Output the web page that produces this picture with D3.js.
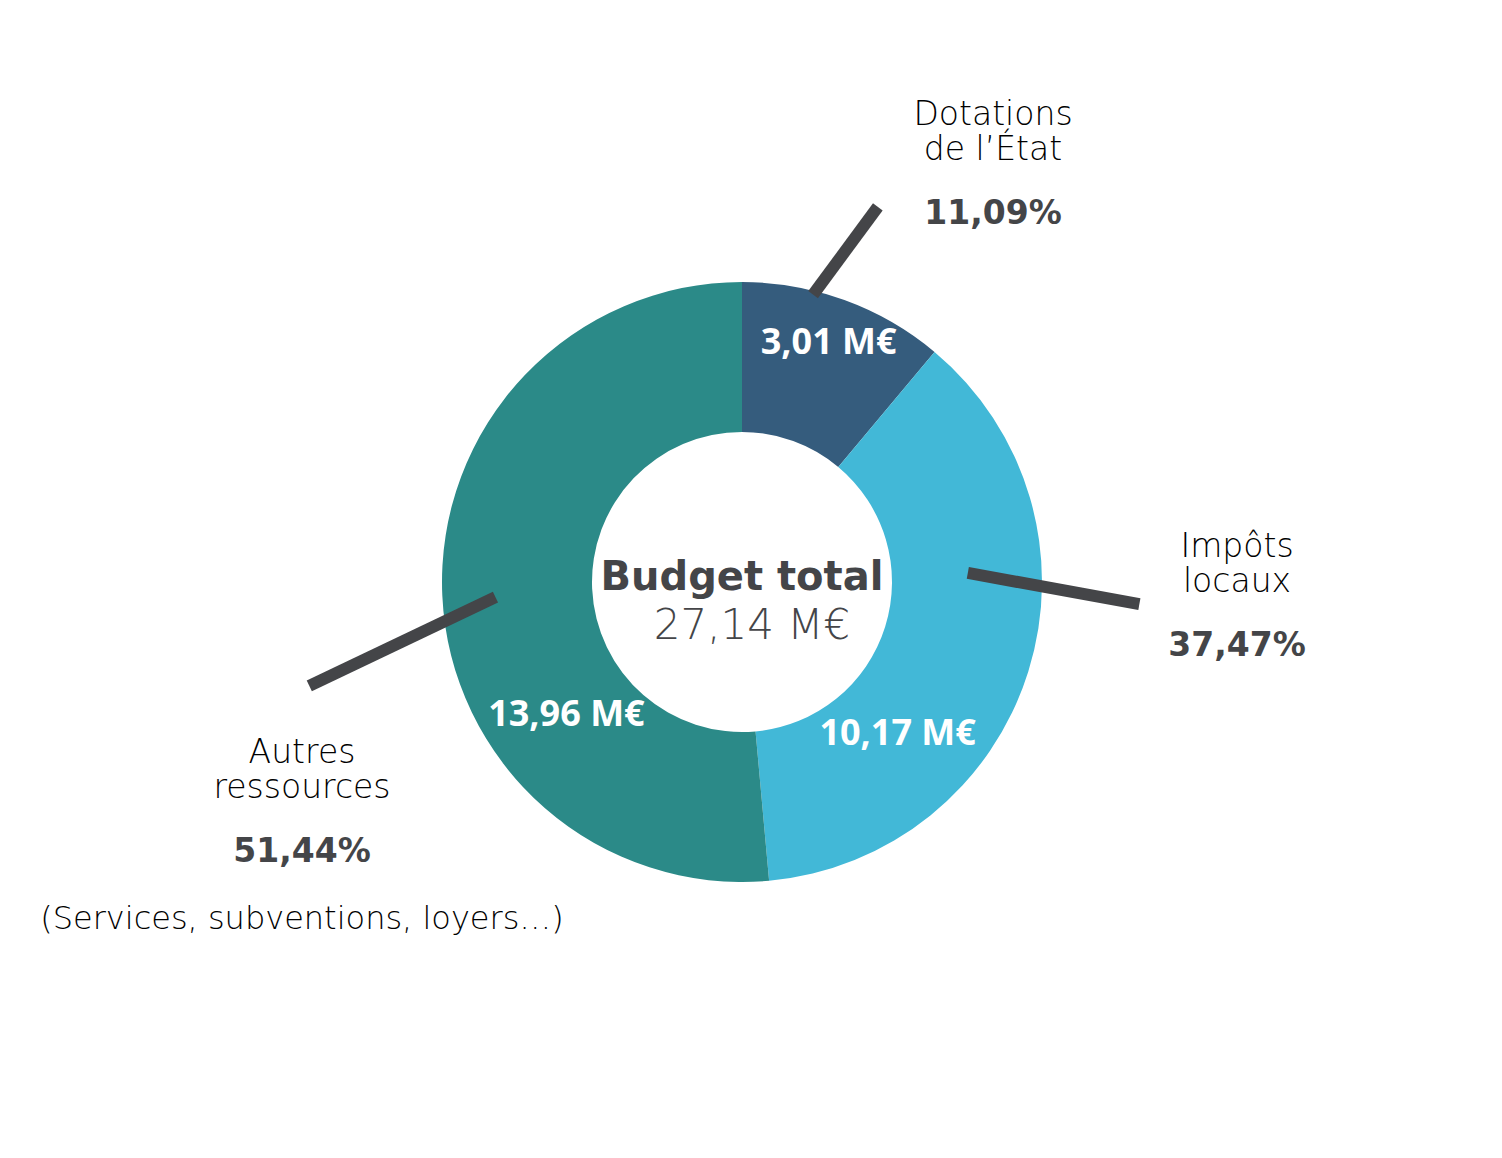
<!DOCTYPE html>
<html lang="fr">
<head>
<meta charset="UTF-8">
<script src="https://d3js.org/d3.v7.min.js"></script>
<title>Budget total</title>
<style>
  body { margin: 0; background: #fff; }
</style>
</head>
<body>
<script>
// données
var categories = ["Dotations de l’État", "Impôts locaux", "Autres ressources"];
var nameLines = [["Dotations", "de l’État"], ["Impôts", "locaux"], ["Autres", "ressources"]];
var amounts = [3.01, 10.17, 13.96];
var percents = [11.09, 37.47, 51.44];
var notes = ["", "", "(Services, subventions, loyers…)"];
var totalLabel = "Budget total";
var totalAmount = 27.14;

var colors = ["#355c7d", "#42b8d7", "#2b8a88"];
var dark = "#444548";

var width = 1502, height = 1158;
var cx = 742, cy = 582;
var outerR = 300, innerR = 150;

var fmt = function(v) { return d3.format(".2f")(v).replace(".", ","); };

var svg = d3.select("body").append("svg")
  .attr("width", width).attr("height", height);

var pie = d3.pie().sort(null).value(function(d) { return d; });
var arcs = pie(percents);

var arc = d3.arc().innerRadius(innerR).outerRadius(outerR);

var g = svg.append("g").attr("transform", "translate(" + cx + "," + cy + ")");

g.selectAll(".slice")
  .data(arcs)
  .enter()
  .append("path")
  .attr("class", "slice")
  .attr("d", arc)
  .attr("fill", function(d, i) { return colors[i]; });

// position polaire (angle en degrés depuis le haut, sens horaire)
function polar(angle, r) {
  var a = angle * Math.PI / 180;
  return [r * Math.sin(a), -r * Math.cos(a)];
}

// traits de rappel
var leaders = [
  { a0: 13.9, r0: 296, a1: 19.9, r1: 399 },
  { a0: 87.7, r0: 226, a1: 93.2, r1: 398 },
  { a0: 266.5, r0: 247, a1: 256.5, r1: 445 }
];
g.selectAll(".leader")
  .data(leaders)
  .enter()
  .append("line")
  .attr("class", "leader")
  .attr("x1", function(d) { return polar(d.a0, d.r0)[0]; })
  .attr("y1", function(d) { return polar(d.a0, d.r0)[1]; })
  .attr("x2", function(d) { return polar(d.a1, d.r1)[0]; })
  .attr("y2", function(d) { return polar(d.a1, d.r1)[1]; })
  .attr("stroke", dark)
  .attr("stroke-width", 12);

// montants dans l'anneau
var valuePos = [
  { a: 19.8, r: 256 },
  { a: 133.9, r: 216 },
  { a: 233.3, r: 219 }
];
g.selectAll(".amount")
  .data(arcs)
  .enter()
  .append("text")
  .attr("class", "amount")
  .attr("x", function(d, i) { return polar(valuePos[i].a, valuePos[i].r)[0]; })
  .attr("y", function(d, i) { return polar(valuePos[i].a, valuePos[i].r)[1]; })
  .attr("dy", "0.36em")
  .attr("text-anchor", "middle")
  .style("font-family", "'Open Sans', sans-serif")
  .style("font-weight", 700)
  .style("font-size", "36px")
  .attr("fill", "#fff")
  .text(function(d, i) { return fmt(amounts[i]) + " M€"; });

// étiquettes extérieures
var labelPos = [
  { x: 251, y: -457 },
  { x: 495, y: -25 },
  { x: -440, y: 181 }
];
var labels = svg.append("g")
  .attr("transform", "translate(" + cx + "," + cy + ")")
  .selectAll(".label")
  .data(categories)
  .enter()
  .append("g")
  .attr("class", "label")
  .attr("transform", function(d, i) { return "translate(" + labelPos[i].x + "," + labelPos[i].y + ")"; });

labels.each(function(d, i) {
  var sel = d3.select(this);
  nameLines[i].forEach(function(line, j) {
    sel.append("text")
      .attr("y", j * 35)
      .attr("text-anchor", "middle")
      .style("font-family", "'DejaVu Sans', sans-serif")
      .style("font-weight", 300)
      .style("font-size", "33px")
      .attr("fill", "#000")
      .text(line);
  });
  sel.append("text")
    .attr("y", 99)
    .attr("text-anchor", "middle")
    .style("font-family", "'DejaVu Sans', sans-serif")
    .style("font-weight", 700)
    .style("font-size", "33px")
    .attr("fill", dark)
    .text(fmt(percents[i]) + "%");
  if (notes[i]) {
    sel.append("text")
      .attr("y", 166)
      .attr("text-anchor", "middle")
      .style("font-family", "'DejaVu Sans', sans-serif")
      .style("font-weight", 300)
      .style("font-size", "32px")
      .attr("fill", "#000")
      .text(notes[i]);
  }
});

// centre
g.append("text")
  .attr("y", 8)
  .attr("text-anchor", "middle")
  .style("font-family", "'DejaVu Sans', sans-serif")
  .style("font-weight", 700)
  .style("font-size", "40px")
  .attr("fill", dark)
  .text(totalLabel);

g.append("text")
  .attr("x", 10)
  .attr("y", 57)
  .attr("text-anchor", "middle")
  .style("font-family", "'DejaVu Sans', sans-serif")
  .style("font-weight", 300)
  .style("font-size", "42px")
  .attr("fill", dark)
  .text(fmt(totalAmount) + " M€");
</script>
</body>
</html>
